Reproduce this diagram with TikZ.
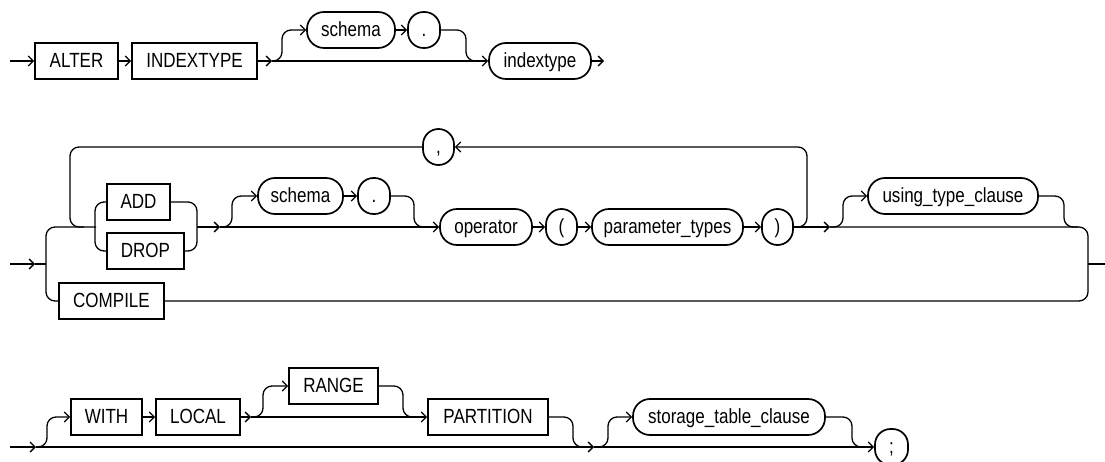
\documentclass[tikz,border=0pt]{standalone}
\usepackage{fontspec}
\setmainfont{Liberation Sans}
\newfontfamily\railfont[FakeStretch=0.83]{Liberation Sans}
\usetikzlibrary{arrows.meta}
\begin{document}
\begin{tikzpicture}[x=1pt,y=-1pt,
  line width=1.3pt,
  kw/.style={draw, line width=1.7pt, rectangle, inner sep=0pt, minimum height=36pt, text height=14.5pt, text depth=2.4pt, font=\railfont\fontsize{20.5}{23}\selectfont},
  nt/.style={kw, rounded corners=17pt},
  sym/.style={kw, rounded corners=15.5pt, minimum width=32pt},
  arr/.style={-{Straight Barb[length=5pt,width=10pt,line width=1.3pt]}},
  rc/.style={rounded corners=9pt}]
\useasboundingbox (0,0) rectangle (1105,462);

% ---------- Row 1 ----------
\node[kw, minimum width=83pt] (alter) at (76.5,61) {ALTER};
\node[kw, minimum width=125pt] (indextype) at (194.5,61) {INDEXTYPE};
\node[nt, minimum width=88pt] (schemaA) at (351,30) {schema};
\node[sym] (dotA) at (424,30) {.};
\node[nt, minimum width=102pt] (itype) at (540,61) {indextype};
\coordinate (s1) at (10,61);
\coordinate (j1) at (272,61);
\coordinate (e1) at (604,61);
\draw[arr] (s1) -- (alter.west);
\draw[arr] (alter) -- (indextype);
\draw[arr] (indextype) -- (j1);
\draw[arr] (j1) -- (itype.west);
\draw[arr,rc] (j1) -| (282,30) -- (schemaA.west);
\draw[arr] (schemaA) -- (dotA);
\draw[rc] (dotA.east) -| (466,61) -- (478,61);
\draw[arr] (itype) -- (e1);

% ---------- Row 2 ----------
\node[kw, minimum width=63pt] (add) at (138.5,202) {ADD};
\node[kw, minimum width=77pt] (drop) at (145.5,251) {DROP};
\node[kw, minimum width=105pt] (compile) at (111.5,301) {COMPILE};
\node[nt, minimum width=85pt] (schemaB) at (300.5,196) {schema};
\node[sym] (dotB) at (374,196) {.};
\node[nt, minimum width=92pt] (operator) at (486,227) {operator};
\node[sym, minimum width=31pt] (lp) at (561.5,227) {(};
\node[nt, minimum width=151pt] (params) at (667.5,227) {parameter\_types};
\node[sym, minimum width=31pt] (rp) at (777.5,227) {)};
\node[sym, minimum width=31pt] (comma) at (438.5,147) {,};
\node[nt, minimum width=170pt] (using) at (953,196) {using\_type\_clause};
\coordinate (s2) at (10,264);
\coordinate (a2) at (35,264);
\coordinate (j2) at (220,227);
\coordinate (j3) at (830,227);
\coordinate (e2) at (1105,264);
\draw[arr] (s2) -- (a2);
\draw (a2) -- (46,264);
\draw[rc] (96,227) -- (46,227) -- (46,301) -- (compile.west);
\draw[rc] (add.west) -- (95,202) -- (95,251) -- (drop.west);
\draw[rc] (add.east) -- (197,202) -- (197,251) -- (drop.east);
\draw[arr] (197,227) -- (j2);
\draw[arr,rc] (j2) -| (232,196) -- (schemaB.west);
\draw[arr] (schemaB) -- (dotB);
\draw[rc] (dotB.east) -| (414,227) -- (428,227);
\draw[arr] (j2) -- (operator.west);
\draw[arr] (operator) -- (lp);
\draw[arr] (lp) -- (params);
\draw[arr] (params) -- (rp);
\draw[arr] (rp) -- (j3);
\draw[arr,rc] (rp.east) -- (807,227) -- (807,147) -- (comma.east);
\draw[rc] (comma.west) -- (70,147) -- (70,227) -- (84,227);
\draw[arr,rc] (j3) -| (843,196) -- (using.west);
\draw[rc] (using.east) -| (1064,227) -- (1078,227);
\draw[rc] (j3) -- (1088,227) -- (1088,301) -- (compile.east);
\draw (1088,264) -- (e2);

% ---------- Row 3 ----------
\node[kw, minimum width=71pt] (with) at (106.5,417) {WITH};
\node[kw, minimum width=84pt] (local) at (198,417) {LOCAL};
\node[kw, minimum width=89pt] (range) at (333.5,386) {RANGE};
\node[kw, minimum width=120pt] (partition) at (488,417) {PARTITION};
\node[nt, minimum width=192pt] (storage) at (729,417) {storage\_table\_clause};
\node[sym, minimum width=33pt] (semi) at (891.5,447) {;};
\coordinate (s3) at (10,447);
\coordinate (a3) at (36,447);
\coordinate (j4) at (251,417);
\coordinate (j5) at (594,447);
\draw[arr] (s3) -- (a3);
\draw[arr,rc] (a3) -| (47,417) -- (with.west);
\draw[arr] (with) -- (local);
\draw[arr] (local) -- (j4);
\draw[arr,rc] (j4) -| (263,386) -- (range.west);
\draw[arr] (j4) -- (partition.west);
\draw[rc] (range.east) -| (403,417) -- (416,417);
\draw[arr] (a3) -- (j5);
\draw[rc] (partition.east) -| (573,447) -- (586,447);
\draw[arr,rc] (j5) -| (608,417) -- (storage.west);
\draw[arr] (j5) -- (semi.west);
\draw[rc] (storage.east) -| (852,447) -- (865,447);
\end{tikzpicture}
\end{document}
